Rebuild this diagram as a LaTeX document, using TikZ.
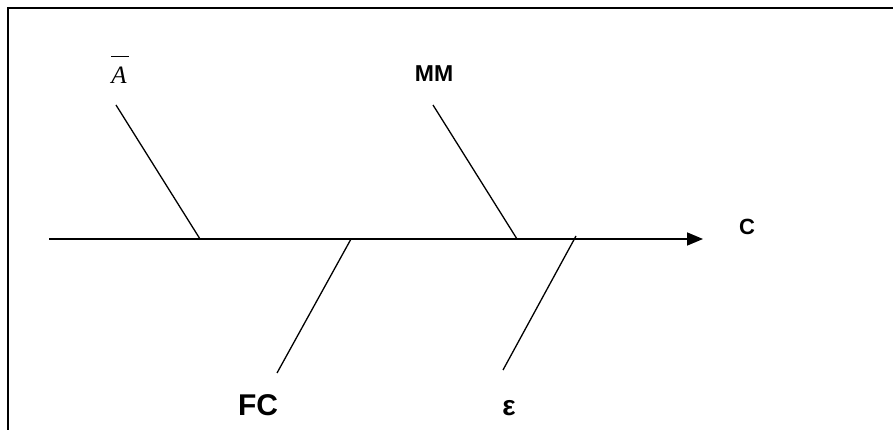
\documentclass[tikz,border=0pt]{standalone}
\usepackage{fontspec}
\setmainfont{Liberation Serif}
\setsansfont{Liberation Sans}
\usetikzlibrary{arrows.meta}

\tikzset{
  bone/.style={line width=1.3pt},
  spine/.style={line width=1.7pt, -{Triangle[length=16pt, width=13pt]}},
  cause/.style={inner sep=0pt, anchor=base, font=\sffamily\bfseries\fontsize{30}{34}\selectfont},
}

\begin{document}
\begin{tikzpicture}[x=1pt, y=-1pt]
  \useasboundingbox (0,0) rectangle (893,430);

  %% frame
  \draw[line width=2pt] (8,430) -- (8,8) -- (893,8);

  %% spine with effect C
  \coordinate (tail) at (49,239);
  \coordinate (head) at (703,239);
  \draw[spine] (tail) -- (head);
  \node[cause, font=\sffamily\bfseries\fontsize{22}{26}\selectfont] (effect) at (747,235) {C};

  %% causes above the spine
  \node[inner sep=0pt, anchor=base, font=\fontsize{25}{29}\selectfont] (abar) at (120,84)
    {$\overline{\textit{A}\kern2pt\rule{0pt}{26pt}}$};
  \node[cause, font=\sffamily\bfseries\fontsize{23}{27}\selectfont] (mm) at (434,82) {MM};

  %% causes below the spine
  \node[cause] (fc) at (258,415) {FC};
  \node[cause, font=\sffamily\bfseries\fontsize{28}{32}\selectfont] (eps) at (509,415) {ε};

  %% bones
  \coordinate (abartop) at (116,105);
  \coordinate (abarfoot) at (200,239);
  \coordinate (mmtop) at (433,105);
  \coordinate (mmfoot) at (517,239);
  \coordinate (fcend) at (277,373);
  \coordinate (fcfoot) at (351,239);
  \coordinate (epsend) at (503,370);
  \coordinate (epsfoot) at (576,236);
  \foreach \a/\b in {abartop/abarfoot, mmtop/mmfoot, fcend/fcfoot, epsend/epsfoot}
    \draw[bone] (\a) -- (\b);
\end{tikzpicture}
\end{document}
